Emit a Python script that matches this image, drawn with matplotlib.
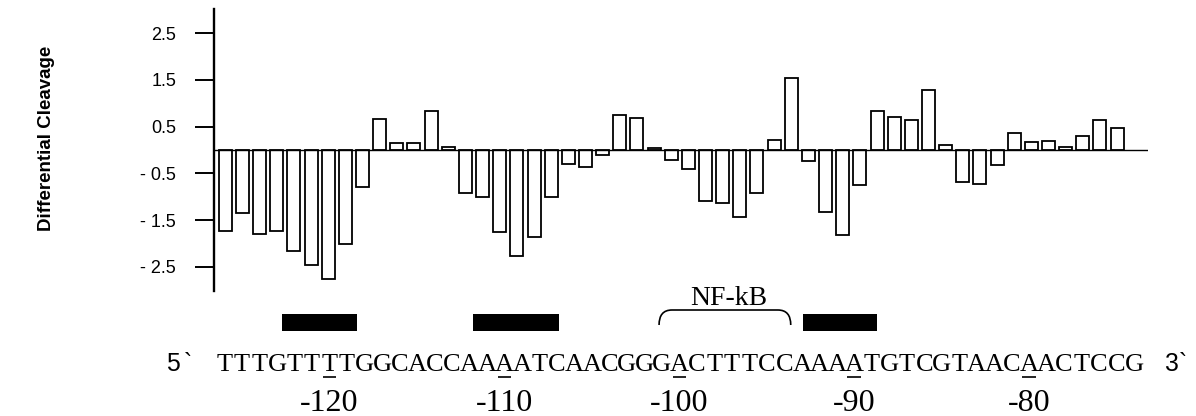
import matplotlib
matplotlib.use("Agg")
import matplotlib.pyplot as plt
import numpy as np
from matplotlib.path import Path
from matplotlib.patches import PathPatch, Rectangle
from matplotlib.transforms import blended_transform_factory

# ---------------- data ----------------
sequence = "TTTGTTTTGGCACCAAAATCAACGGGACTTTCCAAAATGTCGTAACAACTCCG"
start_pos = -126
diff_cleavage = [-1.73, -1.34, -1.80, -1.73, -2.16, -2.46, -2.75, -2.01, -0.80, 0.66,
                 0.14, 0.16, 0.84, 0.07, -0.91, -1.00, -1.76, -2.27, -1.87, -1.00,
                 -0.30, -0.37, -0.11, 0.75, 0.69, 0.04, -0.21, -0.41, -1.09, -1.14,
                 -1.44, -0.91, 0.21, 1.54, -0.23, -1.32, -1.81, -0.74, 0.84, 0.70,
                 0.64, 1.29, 0.11, -0.68, -0.73, -0.32, 0.36, 0.18, 0.19, 0.07,
                 0.31, 0.64, 0.46]
ytick_vals = [2.5, 1.5, 0.5, -0.5, -1.5, -2.5]
ytick_labels = ["2.5", "1.5", "0.5", "- 0.5", "- 1.5", "- 2.5"]
marked_positions = [-120, -110, -100, -90, -80]
protected_regions = [(-122.68, -118.34), (-111.56, -106.54), (-92.30, -87.98)]
nfkb_site = (-100.71, -93.03)
y_label = "Differential Cleavage"

# ---------------- figure ----------------
W, H = 1196, 416
fig = plt.figure(figsize=(W / 100, H / 100), dpi=100)
fig.patch.set_facecolor("white")

def fy(px):
    return 1 - px / H

ax = fig.add_axes([214 / W, fy(290.7), (1148 - 214) / W, (290.7 - 9.3) / H])
positions = np.arange(start_pos, start_pos + len(sequence))
ax.bar(positions, diff_cleavage, width=0.76, color="white", edgecolor="black",
       linewidth=1.3, zorder=2)
ax.axhline(0, color="black", lw=1.0, zorder=3)
ax.set_xlim(start_pos - 0.66, start_pos + 53.8)
ax.set_ylim(-3.01, 3.01)

for s in ["top", "right", "bottom"]:
    ax.spines[s].set_visible(False)
ax.spines["left"].set_linewidth(1.7)
ax.set_xticks([])
ax.set_yticks(ytick_vals)
ax.set_yticklabels(ytick_labels, fontfamily="Liberation Sans", fontsize=13)
ax.tick_params(axis="y", direction="out", length=13.7, width=1.4, pad=13.5)

fig.text(46.5 / W, fy(138.5), y_label, rotation=90, ha="center", va="center",
         fontfamily="Liberation Sans", fontweight="bold", fontsize=13.5)

# ---------------- annotations under the plot ----------------
trans = blended_transform_factory(ax.transData, fig.transFigure)

# protected regions (black boxes)
for x0, x1 in protected_regions:
    ax.add_patch(Rectangle((x0, fy(330.7)), x1 - x0, (330.7 - 314) / H,
                           transform=trans, facecolor="black", edgecolor="none",
                           clip_on=False))

# NF-kB bracket
x0, x1 = nfkb_site
yb, yt = fy(325), fy(310)
rx = 0.75
verts = [(x0, yb), (x0, yt), (x0 + rx, yt), (x1 - rx, yt), (x1, yt), (x1, yb)]
codes = [Path.MOVETO, Path.CURVE3, Path.CURVE3, Path.LINETO, Path.CURVE3, Path.CURVE3]
ax.add_patch(PathPatch(Path(verts, codes), transform=trans, facecolor="none",
                       edgecolor="black", lw=1.2, clip_on=False))
ax.text((x0 + x1) / 2 + 0.2, fy(305), "NF-kB", transform=trans, ha="center",
        va="baseline", fontfamily="Liberation Serif", fontsize=20, clip_on=False)

# sequence characters (fixed pitch slightly wider than bar pitch)
char_x0 = start_pos - 0.04
char_dx = 17.49 / 17.15
for i, ch in enumerate(sequence):
    ax.text(char_x0 + i * char_dx, fy(371), ch, transform=trans, ha="center",
            va="baseline", fontfamily="Liberation Serif", fontsize=19, clip_on=False)

# underlines and position numbers
for p in marked_positions:
    i = p - start_pos
    cx = char_x0 + i * char_dx
    ax.plot([cx - 0.4, cx + 0.4], [fy(376.5), fy(376.5)], transform=trans,
            color="black", lw=1.2, clip_on=False, solid_capstyle="butt")
    ax.text(cx, fy(411), str(p), transform=trans, ha="center", va="baseline",
            fontfamily="Liberation Serif", fontsize=23, clip_on=False)

# 5' and 3' ends
for xt, ch in [(166, "5"), (184, "`"), (1164, "3"), (1179, "`")]:
    fig.text(xt / W, fy(371), ch, ha="left", va="baseline",
             fontfamily="Liberation Sans", fontsize=17.8)

fig.savefig("out.png", dpi=100, facecolor="white")
